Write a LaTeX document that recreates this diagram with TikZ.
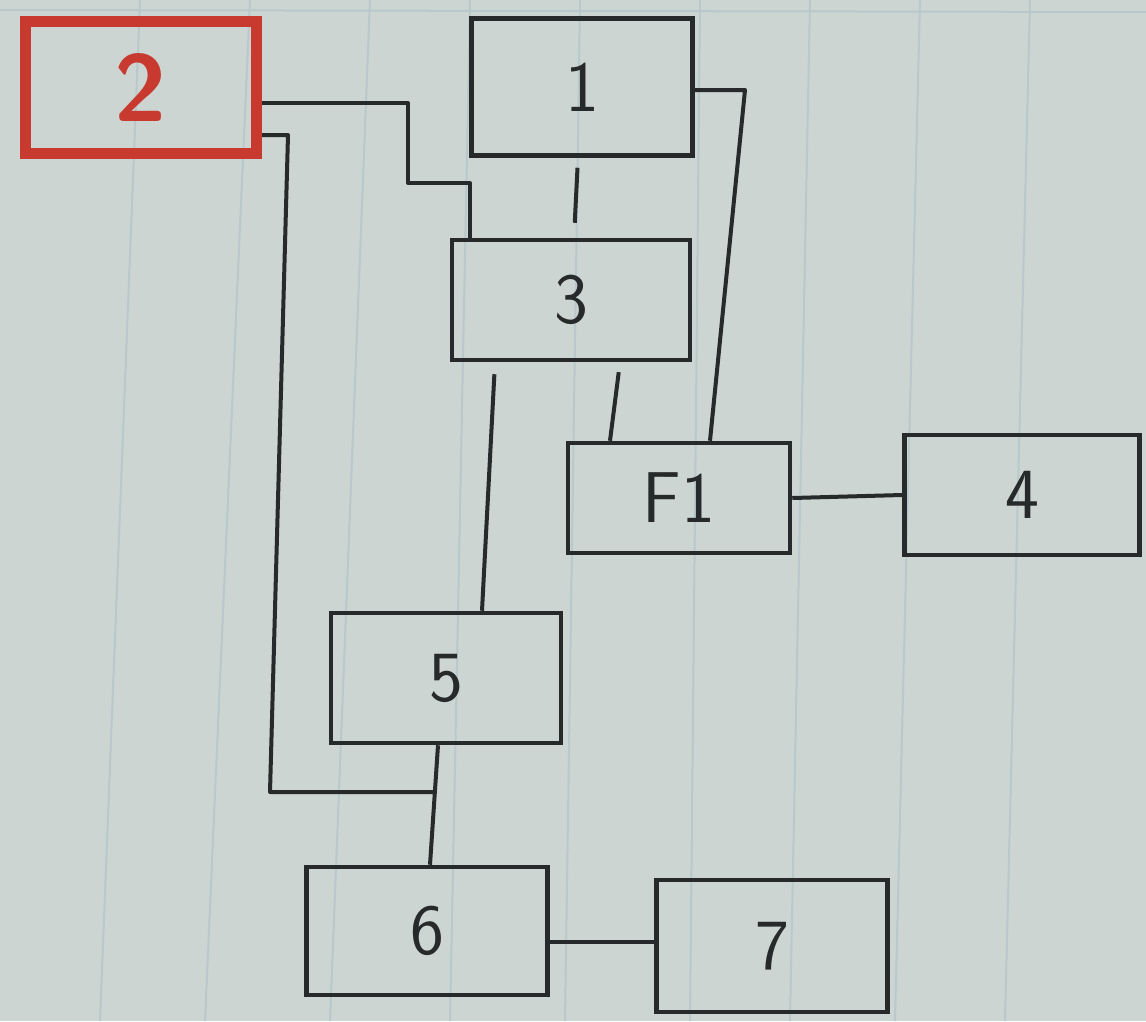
\documentclass[tikz,border=0pt]{standalone}
\usepackage{xcolor}
\definecolor{paper}{HTML}{CCD5D1}
\definecolor{rule}{HTML}{B9C8CC}
\definecolor{ink}{HTML}{262A2A}
\definecolor{redink}{HTML}{C83A30}
\begin{document}
\begin{tikzpicture}[x=1pt,y=-1pt,
  box/.style={draw=ink,line width=4.5pt,rectangle,inner sep=0pt,
    font=\fontsize{72}{72}\selectfont\sffamily,text=ink},
  redbox/.style={draw=redink,line width=11pt,rectangle,inner sep=0pt,
    font=\fontsize{95}{95}\selectfont\sffamily\bfseries,text=redink},
  wire/.style={draw=ink,line width=4pt,line join=round},
  paperline/.style={draw=rule,line width=2pt}]
\fill[paper] (0,0) rectangle (1146,1021);
\useasboundingbox (0,0) rectangle (1146,1021);
% ruled paper
\foreach \xa/\xb in {140/100,250/205,370/330,470/450,580/565,700/690,810/790,920/895,1030/1005}
  \draw[paperline] (\xa,0) -- (\xb,1021);
\draw[paperline] (0,10) -- (1146,12);
% boxes
\node[redbox,minimum width=231pt,minimum height=132pt] (b2) at (141,87) {2};
\node[box,minimum width=221pt,minimum height=137pt] (b1) at (582,87) {1};
\node[box,minimum width=238pt,minimum height=120pt] (b3) at (571,300) {3};
\node[box,minimum width=222pt,minimum height=110pt] (bF) at (679,498) {F1};
\node[box,minimum width=235pt,minimum height=120pt] (b4) at (1022,495) {4};
\node[box,minimum width=230pt,minimum height=130pt] (b5) at (446,678) {5};
\node[box,minimum width=241pt,minimum height=128pt] (b6) at (427,931) {6};
\node[box,minimum width=231pt,minimum height=132pt] (b7) at (772,946) {7};
% helper coordinates
\coordinate (c1) at (408,183);
\coordinate (c3) at (745,90);
\coordinate (c4) at (288,135);
\coordinate (c5) at (270,792);
\coordinate (j) at (435,792);
% connectors
\draw[wire] ([yshift=-16pt]b2.east) -| (c1) -| ([xshift=20pt]b3.north west);
\draw[wire,shorten <=10pt,shorten >=15pt] ([xshift=-4pt]b1.south) -- ([xshift=3pt]b3.north);
\draw[wire] ([yshift=-3pt]b1.east) -- (c3) -- ([xshift=31pt]bF.north);
\draw[wire,shorten <=10pt] ([xshift=49pt]b3.south) -- ([xshift=-69pt]bF.north);
\draw[wire,shorten <=12pt] ([xshift=-76pt]b3.south) -- ([xshift=36pt]b5.north);
\draw[wire] (bF.east) -- (b4.west);
\draw[wire] ([xshift=-8pt]b5.south) -- ([xshift=3pt]b6.north);
\draw[wire] ([yshift=-48pt]b2.east) -- (c4) -- (c5) -- (j);
\draw[wire] ([yshift=-11pt]b6.east) -- ([yshift=-11pt]b6.east -| b7.west);
\end{tikzpicture}
\end{document}
